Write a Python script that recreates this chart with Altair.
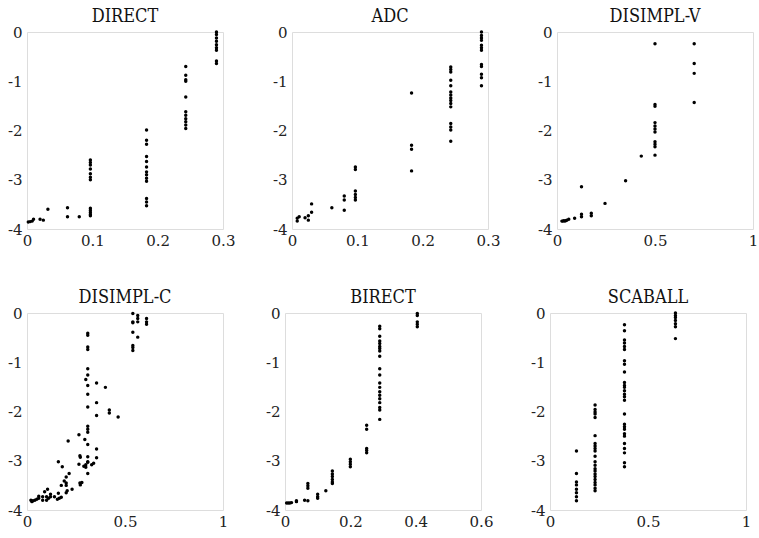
import altair as alt
import pandas as pd

# ---------------- data ----------------
direct_x = [0.002, 0.005, 0.008, 0.01, 0.02, 0.025, 0.032,
            0.062, 0.062, 0.08,
            0.097, 0.097, 0.097, 0.097, 0.097, 0.097, 0.097, 0.097, 0.097, 0.097, 0.097, 0.097,
            0.183, 0.183, 0.183, 0.183, 0.183, 0.183, 0.183, 0.183, 0.183, 0.183, 0.183, 0.183, 0.183,
            0.243, 0.243, 0.243, 0.243, 0.243, 0.243, 0.243, 0.243, 0.243, 0.243, 0.243,
            0.29, 0.29, 0.29, 0.29, 0.29, 0.29, 0.29, 0.29, 0.29]
direct_y = [-3.86, -3.85, -3.84, -3.8, -3.8, -3.82, -3.6,
            -3.57, -3.75, -3.75,
            -2.6, -2.65, -2.7, -2.78, -2.88, -2.95, -3.0, -3.58, -3.62, -3.66, -3.7, -3.73,
            -1.99, -2.2, -2.28, -2.53, -2.63, -2.74, -2.84, -2.9, -2.97, -3.03, -3.38, -3.45, -3.53,
            -0.7, -0.88, -0.97, -1.0, -1.32, -1.62, -1.69, -1.76, -1.82, -1.89, -1.96,
            0.0, -0.05, -0.12, -0.19, -0.26, -0.32, -0.37, -0.59, -0.64]

adc_x = [0.008, 0.008, 0.011, 0.02, 0.025, 0.025, 0.03, 0.03,
         0.061, 0.08, 0.08, 0.08,
         0.097, 0.097, 0.097, 0.097, 0.097, 0.097,
         0.183, 0.183, 0.183, 0.183,
         0.243, 0.243, 0.243, 0.243, 0.243, 0.243, 0.243, 0.243, 0.243, 0.243, 0.243, 0.243, 0.243, 0.243, 0.243,
         0.29, 0.29, 0.29, 0.29, 0.29, 0.29, 0.29, 0.29, 0.29, 0.29, 0.29, 0.29]
adc_y = [-3.78, -3.84, -3.75, -3.77, -3.73, -3.82, -3.49, -3.66,
         -3.57, -3.33, -3.41, -3.62,
         -2.74, -2.79, -3.23, -3.3, -3.36, -3.41,
         -1.24, -2.3, -2.38, -2.82,
         -0.71, -0.76, -0.81, -0.98, -1.09, -1.22, -1.28, -1.34, -1.39, -1.45, -1.52, -1.86, -1.93, -1.99, -2.22,
         0.0, -0.07, -0.12, -0.17, -0.27, -0.32, -0.37, -0.66, -0.7, -0.86, -0.93, -1.09]

disimplv_x = [0.025, 0.03, 0.035, 0.04, 0.045, 0.05, 0.06, 0.09,
              0.125, 0.125, 0.125, 0.175, 0.175, 0.245, 0.35, 0.43,
              0.5, 0.5, 0.5, 0.5, 0.5, 0.5, 0.5, 0.5, 0.5, 0.5, 0.5,
              0.7, 0.7, 0.7, 0.7]
disimplv_y = [-3.84, -3.84, -3.83, -3.84, -3.83, -3.82, -3.8, -3.78,
              -3.14, -3.7, -3.75, -3.68, -3.73, -3.48, -3.02, -2.52,
              -0.24, -1.47, -1.51, -1.84, -1.91, -1.97, -2.03, -2.23, -2.28, -2.33, -2.5,
              -0.24, -0.64, -0.84, -1.43]

disimplc_x = [0.54, 0.54, 0.54, 0.54, 0.54, 0.54, 0.54,
              0.565, 0.565, 0.565, 0.565,
              0.61, 0.61, 0.61,
              0.31, 0.31, 0.31, 0.31, 0.31, 0.31, 0.31, 0.31, 0.31, 0.31, 0.31, 0.31, 0.31, 0.31, 0.31, 0.31,
              0.3, 0.355, 0.355, 0.355, 0.355, 0.355, 0.40, 0.42, 0.42, 0.465,
              0.21, 0.265, 0.295, 0.27, 0.272, 0.265, 0.3, 0.3, 0.29, 0.31, 0.33, 0.34,
              0.27, 0.272, 0.28, 0.16, 0.18, 0.215, 0.2, 0.2, 0.2, 0.19, 0.175, 0.23,
              0.205, 0.2, 0.16, 0.175, 0.155, 0.165, 0.14, 0.12, 0.12, 0.105, 0.09,
              0.1, 0.1, 0.11, 0.08, 0.08, 0.06, 0.06, 0.05, 0.04, 0.02, 0.025, 0.03]
disimplc_y = [-0.01, -0.18, -0.2, -0.39, -0.66, -0.7, -0.76,
              -0.05, -0.11, -0.18, -0.49,
              -0.11, -0.18, -0.23,
              -0.41, -0.45, -0.69, -0.74, -1.13, -1.26, -1.47, -1.65, -1.91, -2.3, -2.36, -2.42, -2.67, -2.92, -3.02, -3.26,
              -1.35, -1.42, -1.82, -2.08, -2.76, -2.94, -1.51, -2.03, -1.97, -2.11,
              -2.6, -2.47, -2.57, -2.9, -2.93, -3.07, -3.08, -3.13, -3.11, -3.03, -3.08, -3.05,
              -3.45, -3.49, -3.44, -3.02, -3.12, -3.26, -3.33, -3.45, -3.5, -3.41, -3.5, -3.58,
              -3.61, -3.65, -3.66, -3.74, -3.78, -3.76, -3.73, -3.68, -3.73, -3.58, -3.63,
              -3.73, -3.8, -3.76, -3.73, -3.8, -3.72, -3.76, -3.78, -3.8, -3.8, -3.83, -3.81]

birect_x = [0.005, 0.01, 0.015, 0.02, 0.035, 0.035, 0.06,
            0.07, 0.07, 0.07, 0.07,
            0.1, 0.1, 0.1, 0.125,
            0.145, 0.145, 0.145, 0.145, 0.145, 0.145,
            0.2, 0.2, 0.2, 0.2,
            0.25, 0.25, 0.25, 0.25, 0.25,
            0.29, 0.29, 0.29, 0.29, 0.29, 0.29, 0.29, 0.29, 0.29, 0.29,
            0.29, 0.29, 0.29, 0.29, 0.29, 0.29, 0.29, 0.29, 0.29, 0.29,
            0.405, 0.405, 0.405, 0.405, 0.405]
birect_y = [-3.86, -3.86, -3.86, -3.85, -3.81, -3.83, -3.8,
            -3.46, -3.51, -3.56, -3.81,
            -3.68, -3.73, -3.76, -3.61,
            -3.21, -3.27, -3.32, -3.38, -3.43, -3.46,
            -2.97, -3.02, -3.07, -3.12,
            -2.28, -2.36, -2.75, -2.79, -2.84,
            -0.27, -0.32, -0.47, -0.57, -0.62, -0.68, -0.72, -0.77, -0.88, -1.13,
            -1.26, -1.42, -1.51, -1.6, -1.67, -1.74, -1.82, -1.92, -1.97, -2.16,
            -0.01, -0.05, -0.18, -0.23, -0.28]

scaball_x = [0.135] * 8 + [0.23] * 22 + [0.38] * 27 + [0.64] * 7
scaball_y = [-2.8, -3.26, -3.43, -3.49, -3.58, -3.65, -3.73, -3.81,
             -1.87, -1.96, -2.01, -2.05, -2.12, -2.49, -2.65, -2.7, -2.75, -2.8, -2.91,
             -3.02, -3.09, -3.16, -3.21, -3.27, -3.32, -3.38, -3.44, -3.49, -3.56, -3.61,
             -0.24, -0.36, -0.55, -0.61, -0.68, -0.74, -0.97, -1.04, -1.2, -1.41, -1.47,
             -1.51, -1.58, -1.65, -1.7, -1.77, -2.05, -2.26, -2.31, -2.36, -2.45, -2.5,
             -2.65, -2.75, -2.84, -3.04, -3.12,
             0.0, -0.05, -0.09, -0.15, -0.22, -0.28, -0.52]

panels = [
    ("DIRECT", direct_x, direct_y, [0, 0.1, 0.2, 0.3]),
    ("ADC", adc_x, adc_y, [0, 0.1, 0.2, 0.3]),
    ("DISIMPL-V", disimplv_x, disimplv_y, [0, 0.5, 1]),
    ("DISIMPL-C", disimplc_x, disimplc_y, [0, 0.5, 1]),
    ("BIRECT", birect_x, birect_y, [0, 0.2, 0.4, 0.6]),
    ("SCABALL", scaball_x, scaball_y, [0, 0.5, 1]),
]
y_ticks = [0, -1, -2, -3, -4]

FONT = "DejaVu Serif Condensed, DejaVu Serif"
LFONT = "DejaVu Serif"
W = 196
H = 197


def panel(name, xs, ys, xticks):
    df = pd.DataFrame({"x": xs, "y": ys})
    return (
        alt.Chart(df)
        .mark_circle(size=12, color="black", opacity=1)
        .encode(
            x=alt.X("x:Q",
                    scale=alt.Scale(domain=[xticks[0], xticks[-1]], nice=False, zero=False),
                    axis=alt.Axis(values=xticks, title=None, grid=False, domain=False,
                                  ticks=False, labelExpr="'' + datum.value",
                                  labelFont=LFONT, labelFontSize=15, labelColor="#222",
                                  labelPadding=4, labelFlush=False)),
            y=alt.Y("y:Q",
                    scale=alt.Scale(domain=[-4, 0], nice=False),
                    axis=alt.Axis(values=y_ticks, title=None, grid=False, domain=False,
                                  ticks=False, labelExpr="'' + datum.value",
                                  labelFont=LFONT, labelFontSize=15, labelColor="#222",
                                  labelPadding=5, labelFlush=False)),
        )
        .properties(
            width=W, height=H,
            title=alt.TitleParams(name, font=FONT, fontSize=18, fontWeight="normal",
                                  color="#111", offset=-1),
        )
    )


charts = [panel(*p) for p in panels]
row1 = alt.hconcat(*charts[:3], spacing=35)
row2 = alt.hconcat(*charts[3:], spacing=35)
chart = (
    alt.vconcat(row1, row2, spacing=39)
    .configure_view(stroke="#888", strokeWidth=1)
    .configure(padding={"left": 6, "top": 7, "right": 0, "bottom": 0})
)

chart.save("out.html", embed_options={"renderer": "svg", "actions": False})
